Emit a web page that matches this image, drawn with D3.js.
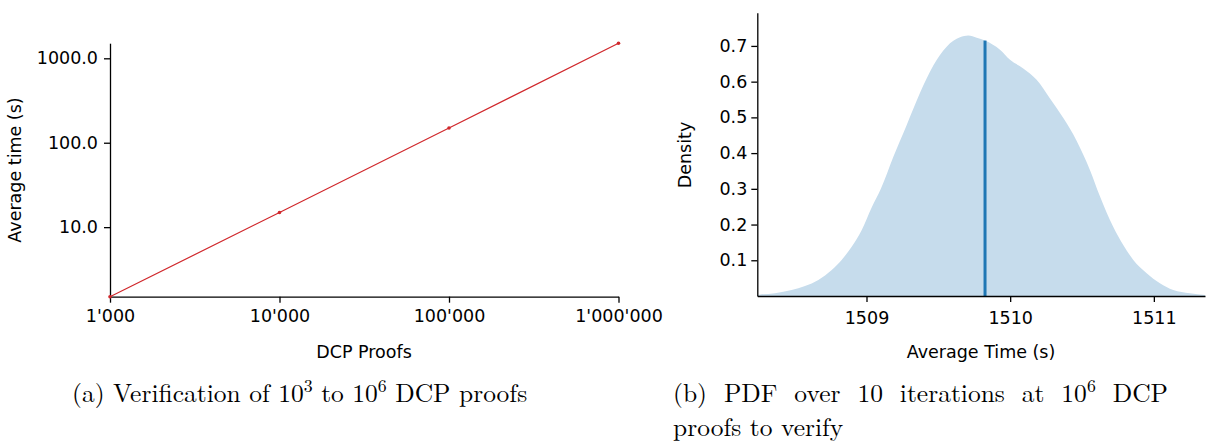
<!DOCTYPE html>
<html><head><meta charset="utf-8">
<script src="https://cdn.jsdelivr.net/npm/d3@7"></script>
<style>
body{margin:0;background:#fff;}
svg{display:block;}
text{fill:#000;}
</style></head><body>
<svg id="c" width="1219" height="448"></svg>
<script>
// ---- Panel (a) data ----
const proofs = [1000, 10000, 100000, 1000000];
const avgTime = [1.5, 14.9, 149.5, 1510];
const xTicksA = [1000, 10000, 100000, 1000000];
const xTickLabelsA = ["1'000", "10'000", "100'000", "1'000'000"];
const yTicksA = [10, 100, 1000];
const yTickLabelsA = ["10.0", "100.0", "1000.0"];

// ---- Panel (b) data ----
const pdfX = [1508.24, 1508.247, 1508.363, 1508.479, 1508.572, 1508.665, 1508.758, 1508.827, 1508.897, 1508.967,
  1509.036, 1509.100, 1509.187, 1509.280, 1509.372, 1509.465, 1509.558, 1509.651, 1509.708, 1509.767,
  1509.825, 1509.929, 1509.999, 1510.091, 1510.184, 1510.277, 1510.370, 1510.463, 1510.555, 1510.624,
  1510.717, 1510.787, 1510.857, 1510.950, 1511.042, 1511.135, 1511.251, 1511.356];
const pdfY = [0.002, 0.003, 0.008, 0.017, 0.028, 0.045, 0.073, 0.101, 0.138, 0.185,
  0.248, 0.300, 0.390, 0.479, 0.568, 0.645, 0.698, 0.724, 0.729, 0.723,
  0.715, 0.689, 0.661, 0.637, 0.605, 0.553, 0.498, 0.434, 0.353, 0.280,
  0.194, 0.143, 0.101, 0.064, 0.036, 0.017, 0.008, 0.003];
const meanTime = 1509.825;
const meanDensity = 0.715;
const xTicksB = [1509, 1510, 1511];
const yTicksB = [0.1, 0.2, 0.3, 0.4, 0.5, 0.6, 0.7];
const xDomainB = [1508.24, 1511.356];
const yDomainB = [0, 0.793];

const svg = d3.select("#c");
const SANS = "'DejaVu Sans', sans-serif";
const SERIF = "'Latin Modern Roman','CMU Serif','Liberation Serif',serif";

function styleAxis(g, fs) {
  g.attr("font-family", SANS).attr("font-size", fs);
  g.select(".domain").attr("stroke", "#000").attr("stroke-width", 1.3);
  g.selectAll(".tick line").attr("stroke", "#000").attr("stroke-width", 1.3);
  g.selectAll(".tick text").attr("fill", "#000");
}

// ---------- Panel (a) ----------
const xA = d3.scaleLog().domain([1000, 1000000]).range([110, 618.5]);
const yA = d3.scaleLog().domain([d3.min(avgTime), d3.max(avgTime)]).range([296.7, 43.2]);

const gxA = svg.append("g").attr("transform", "translate(0,296.7)")
  .call(d3.axisBottom(xA).tickValues(xTicksA).tickFormat((d, i) => xTickLabelsA[i])
    .tickSize(6).tickPadding(7).tickSizeOuter(0));
styleAxis(gxA, 17.5);
const gyA = svg.append("g").attr("transform", "translate(110,0)")
  .call(d3.axisLeft(yA).tickValues(yTicksA).tickFormat((d, i) => yTickLabelsA[i])
    .tickSize(6).tickPadding(6).tickSizeOuter(0));
styleAxis(gyA, 17.5);

svg.append("path")
  .datum(proofs.map((p, i) => [p, avgTime[i]]))
  .attr("fill", "none").attr("stroke", "#d0282c").attr("stroke-width", 1.2)
  .attr("d", d3.line().x(d => xA(d[0])).y(d => yA(d[1])));
svg.append("g").selectAll("circle").data(proofs.map((p, i) => [p, avgTime[i]])).join("circle")
  .attr("cx", d => xA(d[0])).attr("cy", d => yA(d[1])).attr("r", 1.8).attr("fill", "#d0282c");

svg.append("text").attr("x", 364).attr("y", 358).attr("text-anchor", "middle")
  .attr("font-family", SANS).attr("font-size", 17.5).text("DCP Proofs");
svg.append("text").attr("transform", "translate(21,170) rotate(-90)").attr("text-anchor", "middle")
  .attr("font-family", SANS).attr("font-size", 17.5).text("Average time (s)");

// ---------- Panel (b) ----------
const xB = d3.scaleLinear().domain(xDomainB).range([757.3, 1205]);
const yB = d3.scaleLinear().domain(yDomainB).range([296, 12.7]);

svg.append("path")
  .datum(pdfX.map((x, i) => [x, pdfY[i]]))
  .attr("fill", "#c6dcec")
  .attr("d", d3.area().curve(d3.curveMonotoneX).x(d => xB(d[0])).y0(yB(0)).y1(d => yB(d[1])));
svg.append("line")
  .attr("x1", xB(meanTime)).attr("x2", xB(meanTime))
  .attr("y1", yB(0)).attr("y2", yB(meanDensity))
  .attr("stroke", "#1f77b4").attr("stroke-width", 3);

const gxB = svg.append("g").attr("transform", "translate(0,296)")
  .call(d3.axisBottom(xB).tickValues(xTicksB).tickFormat(d3.format("d"))
    .tickSize(6).tickPadding(10).tickSizeOuter(0));
styleAxis(gxB, 17.5);
const gyB = svg.append("g").attr("transform", "translate(757.3,0)")
  .call(d3.axisLeft(yB).tickValues(yTicksB).tickFormat(d3.format(".1f"))
    .tickSize(6).tickPadding(4).tickSizeOuter(0));
styleAxis(gyB, 17.5);

svg.append("text").attr("x", 981).attr("y", 358).attr("text-anchor", "middle")
  .attr("font-family", SANS).attr("font-size", 17.5).text("Average Time (s)");
svg.append("text").attr("transform", "translate(691,155) rotate(-90)").attr("text-anchor", "middle")
  .attr("font-family", SANS).attr("font-size", 17.5).text("Density");

// ---------- Captions ----------
function caption(x, y, parts, target, fs) {
  const t = svg.append("text").attr("x", x).attr("y", y)
    .attr("font-family", SERIF).attr("font-size", fs);
  let raised = false;
  parts.forEach(p => {
    if (p.sup) {
      t.append("tspan").attr("dy", -0.4 * fs).attr("font-size", 0.7 * fs).text(p.sup);
      raised = true;
    } else {
      const s = t.append("tspan").text(p.t);
      if (raised) { s.attr("dy", 0.4 * fs); raised = false; }
    }
  });
  if (target) {
    const w = t.node().getComputedTextLength();
    const txt = parts.map(p => p.t || p.sup).join("");
    const n = (txt.match(/ /g) || []).length;
    if (n > 0) t.attr("word-spacing", Math.max(0, (target - w) / n));
  }
  return t;
}
caption(72, 402, [{t: "(a) Verification of 10"}, {sup: "3"}, {t: " to 10"}, {sup: "6"}, {t: " DCP proofs"}], 455, 25.5);
caption(673, 402, [{t: "(b) PDF over 10 iterations at 10"}, {sup: "6"}, {t: " DCP"}], 495, 25.5);
caption(673, 436, [{t: "proofs to verify"}], null, 25.5);
</script>
</body></html>
